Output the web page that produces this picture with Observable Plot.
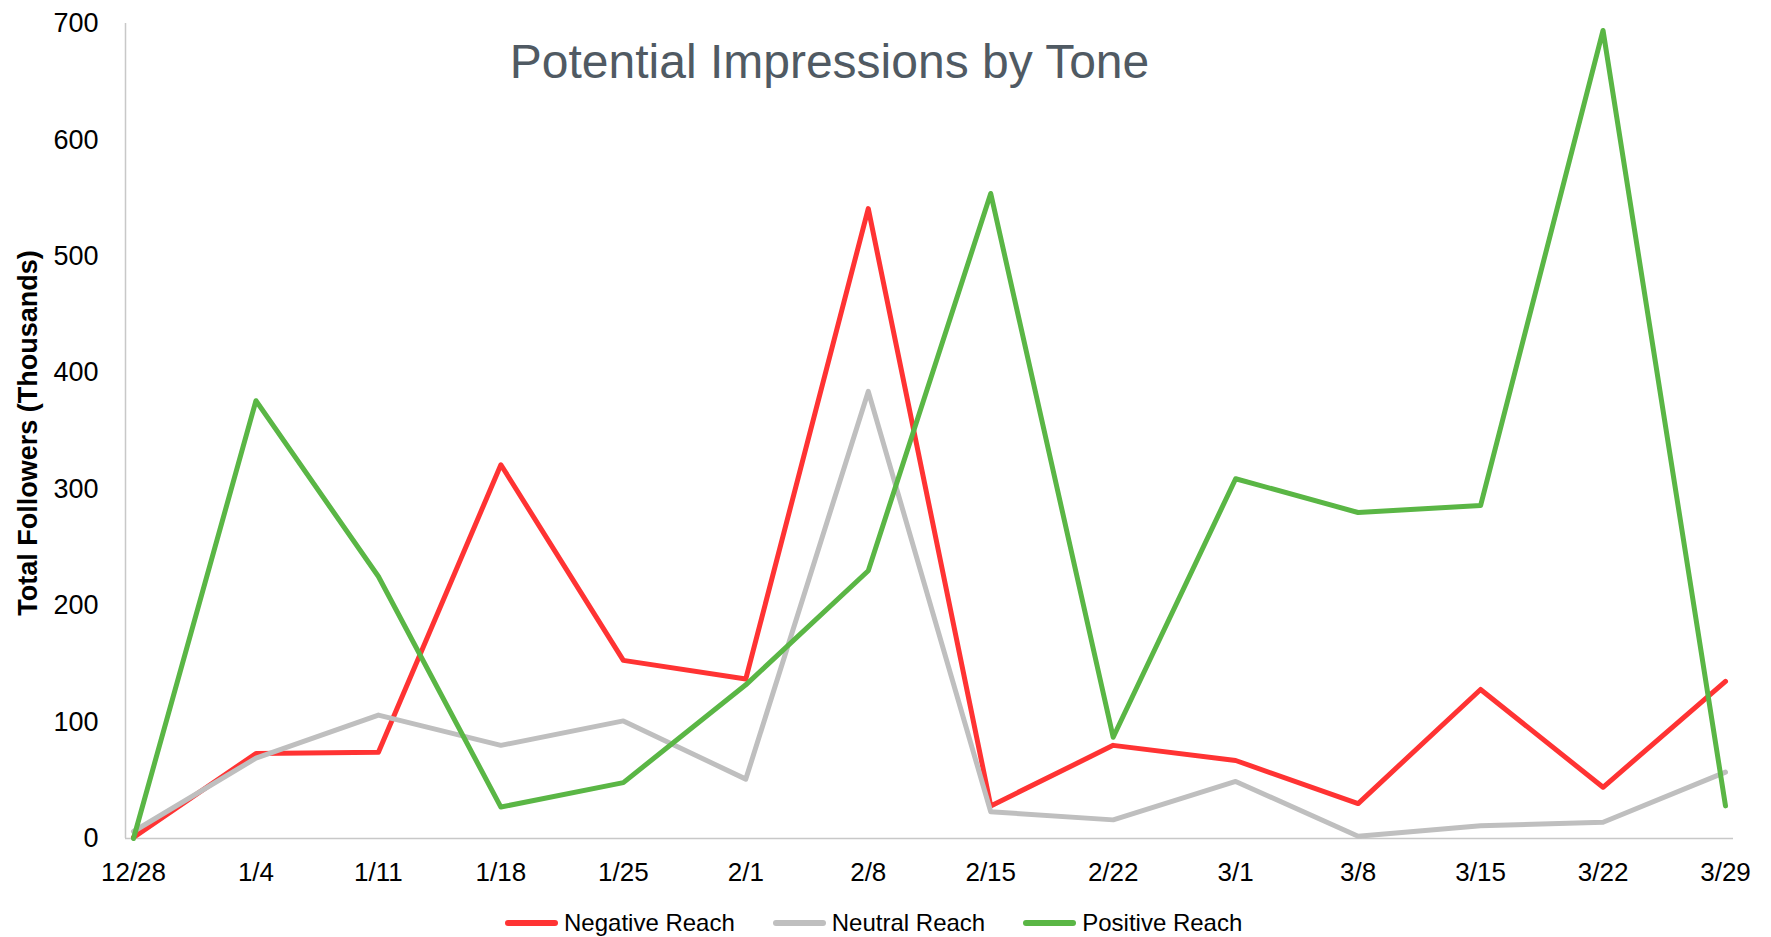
<!DOCTYPE html>
<html>
<head>
<meta charset="utf-8">
<script src="https://cdn.jsdelivr.net/npm/d3@7"></script>
<script src="https://cdn.jsdelivr.net/npm/@observablehq/plot@0.6"></script>
<style>
  html, body { margin: 0; padding: 0; background: #fff; overflow: hidden; }
  body { width: 1771px; height: 937px; font-family: "Liberation Sans", Arial, sans-serif; }
  #legend { height: 50px; display: flex; align-items: center; padding-left: 505px; font-size: 24px; color: #000; }
  .item { display: flex; align-items: center; margin-right: 38px; }
  .sw { display: inline-block; width: 53px; height: 6px; border-radius: 3px; margin-right: 6px; }
</style>
</head>
<body>
<div id="chart"></div>
<div id="legend"></div>
<script>
const dates = ["12/28","1/4","1/11","1/18","1/25","2/1","2/8","2/15","2/22","3/1","3/8","3/15","3/22","3/29"];
const negative = [1, 73, 74, 321, 153, 137, 541, 28, 80, 67, 30, 128, 44, 135];
const neutral  = [6, 69, 106, 80, 101, 51, 384, 23, 16, 49, 2, 11, 14, 57];
const positive = [0, 376, 225, 27, 48, 132, 230, 554, 87, 309, 280, 286, 694, 28];
const seriesNames = ["Negative Reach", "Neutral Reach", "Positive Reach"];
const seriesColors = ["#ff3333", "#bfbfbf", "#5ab645"];
const yTicks = [0, 100, 200, 300, 400, 500, 600, 700];
const title = "Potential Impressions by Tone";
const yLabel = "Total Followers (Thousands)";

const seriesValues = [negative, neutral, positive];
const data = seriesNames.flatMap((name, s) => seriesValues[s].map((v, i) => ({i, v, name})));
const xPad = 0.0653;

const chart = Plot.plot({
  width: 1771,
  height: 898,
  marginLeft: 125,
  marginRight: 38,
  marginTop: 23,
  marginBottom: 60,
  style: {fontFamily: "'Liberation Sans', Arial, sans-serif", fontSize: "26px", color: "#000", background: "#fff"},
  x: {domain: [-xPad, dates.length - 1 + xPad], axis: null},
  y: {domain: [0, 700], axis: null},
  color: {domain: seriesNames, range: seriesColors},
  marks: [
    Plot.axisX(d3.range(dates.length), {tickFormat: i => dates[i], tickSize: 0, tickPadding: 24, fontSize: 26, label: null}),
    Plot.axisY(yTicks, {tickSize: 0, tickPadding: 27, fontSize: 27, label: null}),
    Plot.ruleY([0], {stroke: "#c8c8c8", strokeWidth: 1.5}),
    Plot.ruleX([-xPad], {stroke: "#c8c8c8", strokeWidth: 1.5}),
    Plot.line(data, {x: "i", y: "v", z: "name", stroke: "name", strokeWidth: 5, strokeLinejoin: "round", strokeLinecap: "round"}),
    Plot.text([title], {frameAnchor: "top", dx: -100, dy: 39, lineAnchor: "middle", textAnchor: "middle", fontSize: 48, fill: "#505a63"}),
    Plot.text([yLabel], {frameAnchor: "left", rotate: -90, dx: -97, dy: 2, lineAnchor: "middle", textAnchor: "middle", fontSize: 27, fontWeight: "bold", fill: "#000"})
  ]
});
document.getElementById("chart").appendChild(chart);

const legend = document.getElementById("legend");
seriesNames.forEach((name, k) => {
  const item = document.createElement("div");
  item.className = "item";
  const sw = document.createElement("span");
  sw.className = "sw";
  sw.style.background = seriesColors[k];
  const t = document.createElement("span");
  t.textContent = name;
  item.appendChild(sw);
  item.appendChild(t);
  legend.appendChild(item);
});
</script>
</body>
</html>
